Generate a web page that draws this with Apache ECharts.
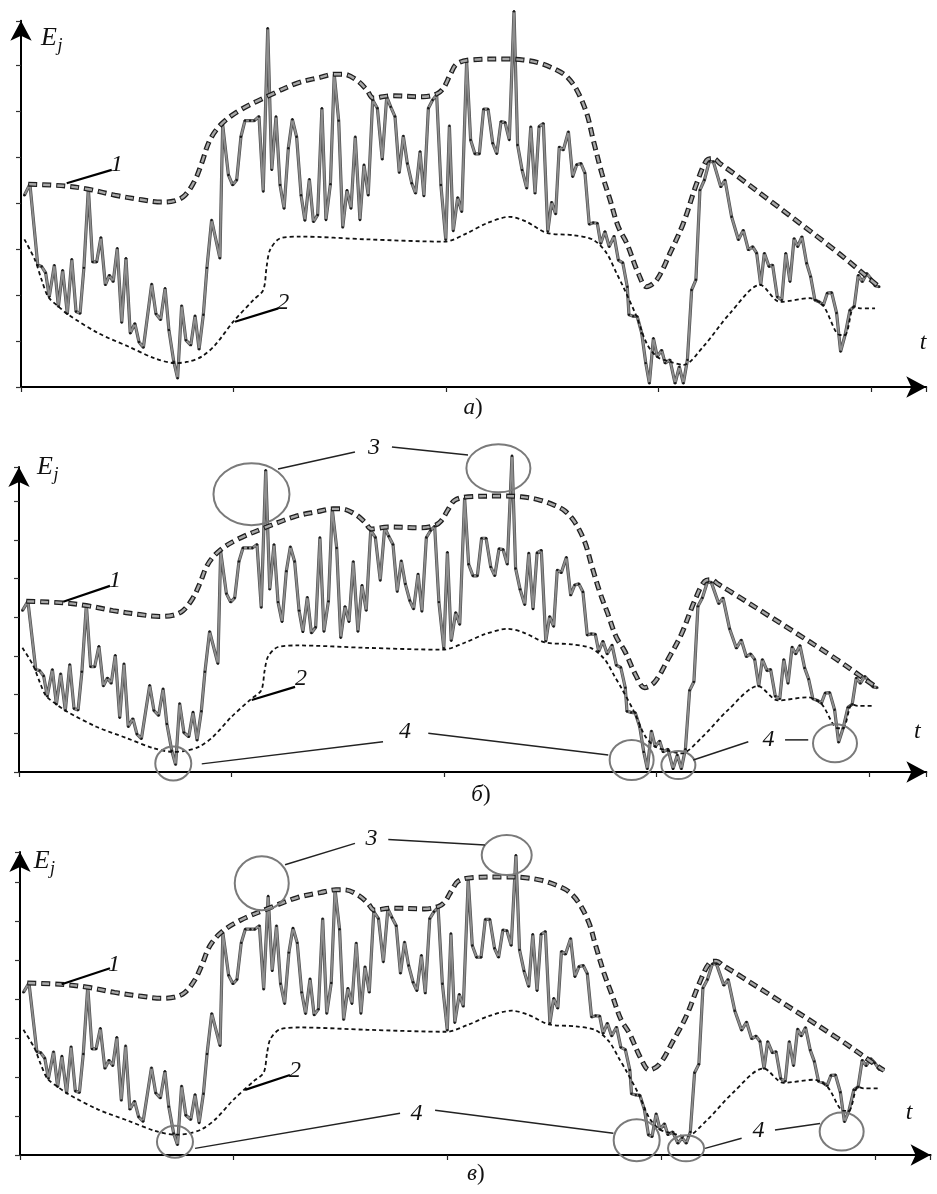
<!DOCTYPE html>
<html><head><meta charset="utf-8">
<script src="https://cdn.jsdelivr.net/npm/echarts@6/dist/echarts.min.js"></script>
<style>html,body{margin:0;padding:0;background:#fff}#c{width:937px;height:1194px}</style>
</head><body><div id="c"></div>
<script>
// ---- signal E_j(t), read from panel a) (t: one unit per x tick, E: one unit per y tick)
const signal = [
[0.016,4.17],[0.042,4.41],[0.079,2.65],[0.097,2.62],[0.116,2.48],[0.133,1.96],[0.157,2.65],[0.176,1.75],[0.196,2.54],[0.218,1.59],
[0.239,2.78],[0.259,1.64],[0.278,1.60],[0.296,2.59],[0.317,4.32],[0.337,2.72],[0.356,2.72],[0.376,3.25],[0.397,2.22],[0.416,2.43],
[0.434,2.29],[0.453,3.02],[0.474,1.40],[0.494,2.80],[0.514,1.17],[0.536,1.38],[0.555,0.98],[0.576,0.86],[0.615,2.24],[0.635,1.59],
[0.657,1.46],[0.678,2.15],[0.696,1.24],[0.719,0.55],[0.737,0.19],[0.756,1.77],[0.776,1.02],[0.799,0.91],[0.819,1.55],[0.838,0.82],
[0.858,1.57],[0.875,2.59],[0.897,3.63],[0.936,2.80],[0.949,5.70],[0.976,4.61],[0.996,4.39],[1.015,4.50],[1.035,5.44],[1.054,5.79],
[1.078,5.79],[1.098,5.79],[1.120,5.88],[1.140,4.25],[1.161,7.80],[1.180,4.72],[1.200,5.88],[1.219,4.39],[1.238,3.88],[1.258,5.19],
[1.277,5.82],[1.297,5.44],[1.318,4.17],[1.336,3.62],[1.357,4.52],[1.376,3.59],[1.396,3.74],[1.416,6.06],[1.435,3.63],[1.456,4.41],
[1.474,6.80],[1.495,5.79],[1.514,3.47],[1.534,4.28],[1.553,3.88],[1.573,5.44],[1.595,3.63],[1.614,4.83],[1.634,4.17],[1.655,6.24],
[1.677,6.06],[1.700,4.95],[1.721,6.31],[1.740,6.09],[1.760,5.88],[1.780,4.66],[1.799,5.46],[1.818,4.86],[1.839,4.43],[1.857,4.21],
[1.878,5.12],[1.896,4.15],[1.917,6.06],[1.937,6.24],[1.956,6.35],[1.976,4.39],[1.999,3.20],[2.016,5.68],[2.034,3.39],[2.055,4.12],
[2.074,3.81],[2.097,7.07],[2.116,5.37],[2.136,5.07],[2.157,5.07],[2.177,6.04],[2.198,6.04],[2.220,5.30],[2.239,5.07],[2.259,5.77],
[2.278,5.75],[2.298,5.37],[2.320,8.17],[2.337,5.26],[2.358,4.72],[2.380,4.32],[2.399,5.66],[2.419,4.21],[2.438,5.66],[2.458,5.73],
[2.479,3.38],[2.497,4.02],[2.516,3.76],[2.533,5.22],[2.552,5.15],[2.576,5.55],[2.596,4.57],[2.615,4.83],[2.635,4.86],[2.654,4.65],
[2.674,3.54],[2.693,3.57],[2.712,3.56],[2.728,3.12],[2.748,3.38],[2.768,3.05],[2.791,3.28],[2.811,2.76],[2.832,2.70],[2.853,2.18],
[2.861,1.57],[2.881,1.54],[2.900,1.53],[2.921,1.17],[2.940,0.52],[2.957,0.08],[2.976,1.06],[2.994,0.66],[3.015,0.80],[3.031,0.52],
[3.054,0.59],[3.078,0.08],[3.098,0.44],[3.117,0.08],[3.136,0.59],[3.156,2.11],[3.176,2.33],[3.195,4.28],[3.216,4.50],[3.239,4.90],
[3.258,4.90],[3.293,4.35],[3.313,4.50],[3.344,3.70],[3.376,3.20],[3.399,3.41],[3.423,2.98],[3.443,3.05],[3.462,2.91],[3.481,2.22],
[3.498,2.91],[3.520,2.62],[3.537,2.65],[3.559,1.96],[3.580,1.89],[3.599,2.91],[3.619,2.29],[3.638,3.23],[3.655,3.05],[3.675,3.27],
[3.697,2.69],[3.716,2.40],[3.736,1.89],[3.757,1.85],[3.776,1.78],[3.794,2.04],[3.815,2.05],[3.838,1.61],[3.857,0.77],[3.878,1.13],
[3.901,1.67],[3.921,1.75],[3.940,2.43],[3.959,2.29],[3.980,2.47],[3.999,2.36],[4.019,2.20],[4.039,2.18]
];
// ---- values of the signal that are changed in panel в) (anomalies 3 and 4 corrected)
const correctedPoints = [[0.737,0.26],[1.161,6.64],[2.320,7.69],[2.957,0.47],[3.078,0.30],[3.117,0.30],[3.857,0.85]];
// ---- envelope 1 (upper) and envelope 2 (lower)
const upperEnvelope = [
[0.034,4.41],[0.207,4.37],[0.317,4.30],[0.442,4.17],[0.568,4.07],[0.662,4.02],[0.725,4.05],[0.772,4.17],[0.819,4.50],[0.850,4.86],
[0.889,5.37],[0.944,5.72],[1.031,6.02],[1.156,6.31],[1.297,6.60],[1.407,6.73],[1.478,6.80],[1.517,6.80],[1.580,6.67],[1.627,6.46],
[1.658,6.28],[1.736,6.33],[1.893,6.31],[1.956,6.37],[1.987,6.49],[2.019,6.78],[2.050,7.02],[2.113,7.11],[2.270,7.13],[2.364,7.11],
[2.442,7.04],[2.521,6.89],[2.568,6.75],[2.615,6.46],[2.662,5.95],[2.693,5.37],[2.733,4.65],[2.772,4.07],[2.811,3.48],[2.851,3.12],
[2.905,2.47],[2.944,2.18],[2.992,2.33],[3.054,2.91],[3.117,3.56],[3.180,4.43],[3.227,4.93],[3.258,4.97],[3.289,4.86],[3.352,4.65],
[3.823,3.00],[4.027,2.22],[4.042,2.17]
];
const lowerEnvelope = [
[0.016,3.21],[0.066,2.76],[0.097,2.33],[0.128,1.96],[0.176,1.75],[0.223,1.57],[0.364,1.17],[0.505,0.88],[0.631,0.62],[0.725,0.52],
[0.787,0.55],[0.850,0.66],[0.913,0.91],[0.999,1.42],[1.093,1.89],[1.140,2.11],[1.156,2.62],[1.172,2.98],[1.219,3.23],[1.313,3.27],
[1.627,3.21],[1.995,3.16],[2.097,3.34],[2.192,3.56],[2.301,3.70],[2.380,3.59],[2.474,3.35],[2.599,3.30],[2.693,3.20],[2.756,2.91],
[2.803,2.47],[2.834,2.18],[2.897,1.53],[2.944,0.95],[2.992,0.66],[3.054,0.55],[3.117,0.48],[3.211,0.88],[3.336,1.60],[3.478,2.22],
[3.572,1.85],[3.713,1.93],[3.776,1.76],[3.854,1.13],[3.878,1.13],[3.920,1.75],[3.948,1.71],[4.019,1.71]
];
// ---- annotations (data coordinates)
const panelCaptions = ['а', 'б', 'в'];
const captionAt = [[0,2.127,-0.46],[1,2.174,-0.60],[2,2.133,-0.49]];
const axisNameE = [[0,0.132,7.59],[1,0.122,7.88],[2,0.101,7.54]];
const numberLabels = [
[0,0.450,4.83,'1'],[0,1.234,1.83,'2'],[0,4.245,0.96,'t'],
[1,0.452,4.94,'1'],[1,1.327,2.40,'2'],[1,1.671,8.37,'3'],[1,1.816,1.04,'4'],[1,3.527,0.83,'4'],[1,4.228,1.03,'t'],
[2,0.440,4.87,'1'],[2,1.287,2.15,'2'],[2,1.644,8.10,'3'],[2,1.855,1.05,'4'],[2,3.455,0.62,'4'],[2,4.159,1.08,'t']
];
const curveLeaders = [
[0,0.215,4.43,0.427,4.72],[0,1.007,1.42,1.211,1.71],
[1,0.208,4.40,0.428,4.81],[1,1.095,1.86,1.299,2.20],
[2,0.195,4.38,0.421,4.79],[2,1.053,1.67,1.263,2.05]
];
const anomalyLeaders = [
[1,1.219,7.83,1.581,8.27],[1,1.755,8.40,2.113,8.19],[1,1.713,0.78,0.860,0.21],[1,1.926,1.00,2.773,0.44],[1,3.173,0.31,3.432,0.78],[1,3.605,0.83,3.714,0.83],
[2,1.240,7.44,1.567,7.99],[2,1.723,8.09,2.175,7.95],[2,1.778,1.07,0.819,0.17],[2,1.942,1.15,2.776,0.56],[2,3.205,0.17,3.376,0.43],[2,3.532,0.64,3.743,0.81]
];
const anomalyCircles = [ // panel, t, E of centre
[1,1.094,7.18],[1,2.256,7.85],[1,0.726,0.22],[1,2.883,0.31],[1,3.103,0.18],[1,3.840,0.74],
[2,1.131,6.97],[2,2.277,7.69],[2,0.725,0.34],[2,2.885,0.38],[2,3.116,0.17],[2,3.844,0.60]
];
const circleRadiiPx = [[38,31],[32,24],[18,17],[22,20],[17,14],[22,19],[27,27],[25,20],[18,16],[23,21],[18,13],[22,19]];

// ---- layout of the three panels (pixels)
const layout = [
  {left:21, axisY:387,  pxT:212.5,  pxE:46,   xMax:4.26, yMax:7.96},
  {left:19, axisY:772,  pxT:212.5,  pxE:38.7, xMax:4.27, yMax:7.88},
  {left:20, axisY:1155, pxT:213.75, pxE:39,   xMax:4.26, yMax:7.77}
];

const signalC = signal.map(([t,e]) => {
  const c = correctedPoints.find(p => Math.abs(p[0]-t) < 1e-6);
  return [t, c ? c[1] : e];
});
const signals = [signal, signal, signalC];

const chart = echarts.init(document.getElementById('c'), null, {renderer:'canvas'});
const SERIF = '"Liberation Serif","Times New Roman",serif';
const grids = [], xAxes = [], yAxes = [], series = [];
layout.forEach((L, i) => {
  const h = L.yMax * L.pxE;
  grids.push({left:L.left, top:L.axisY - h, width:L.xMax*L.pxT, height:h, containLabel:false});
  const axisLine = {show:true, onZero:false, lineStyle:{color:'#000', width:2}, symbol:['none','arrow'], symbolSize:[16,20]};
  xAxes.push({type:'value', gridIndex:i, min:0, max:L.xMax, interval:1, axisLine,
    axisTick:{show:true, length:5, lineStyle:{color:'#222', width:1.2}}, axisLabel:{show:false}, splitLine:{show:false}});
  yAxes.push({type:'value', gridIndex:i, min:0, max:L.yMax, interval:1, axisLine,
    axisTick:{show:true, length:5, lineStyle:{color:'#333', width:1.2}}, axisLabel:{show:false}, splitLine:{show:false}});
  const base = {type:'line', xAxisIndex:i, yAxisIndex:i, animation:false, silent:true, clip:false};
  series.push(Object.assign({}, base, {data:signals[i], showSymbol:false, z:2,
    lineStyle:{color:'#505050', width:3.2}}));
  series.push(Object.assign({}, base, {data:signals[i], z:3, symbol:'circle', symbolSize:2.4,
    itemStyle:{color:'#1a1a1a', borderWidth:0}, lineStyle:{color:'#8e8e8e', width:1.8}}));
  series.push(Object.assign({}, base, {data:upperEnvelope, showSymbol:false, smooth:0.35, z:4,
    lineStyle:{color:'#1e1e1e', width:5, type:[9,5], cap:'butt'}}));
  series.push(Object.assign({}, base, {data:upperEnvelope, showSymbol:false, smooth:0.35, z:5,
    lineStyle:{color:'#a8a8a8', width:2.4, type:[7,7], dashOffset:-1, cap:'butt'}}));
  series.push(Object.assign({}, base, {data:lowerEnvelope, showSymbol:false, smooth:0.3, z:4,
    lineStyle:{color:'#111', width:1.8, type:[4,3]}}));
});

chart.setOption({animation:false, backgroundColor:'#fff', grid:grids, xAxis:xAxes, yAxis:yAxes, series});

function P(p, t, e){ return chart.convertToPixel({gridIndex:p}, [t, e]); }
const g = [];
numberLabels.forEach(([p,t,e,txt]) => {
  const [x,y] = P(p,t,e);
  g.push({type:'text', x, y, silent:true, z:20, style:{text:txt, fill:'#111', font:'italic 24px '+SERIF,
    align:'center', verticalAlign:'middle', textAlign:'center', textVerticalAlign:'middle'}});
});
axisNameE.forEach(([p,t,e]) => {
  const [x,y] = P(p,t,e);
  g.push({type:'text', x, y, silent:true, z:20, style:{text:'E', fill:'#111', font:'italic 26px '+SERIF,
    align:'center', verticalAlign:'middle', textAlign:'center', textVerticalAlign:'middle'}});
  g.push({type:'text', x:x+11, y:y+8, silent:true, z:20, style:{text:'j', fill:'#111', font:'italic 18px '+SERIF,
    align:'center', verticalAlign:'middle', textAlign:'center', textVerticalAlign:'middle'}});
});
captionAt.forEach(([p,t,e], k) => {
  const [x,y] = P(p,t,e);
  g.push({type:'text', x, y, silent:true, z:20, style:{text:'{i|'+panelCaptions[k]+'}{n|)}', fill:'#111',
    align:'center', verticalAlign:'middle', textAlign:'center', textVerticalAlign:'middle',
    rich:{i:{fontStyle:'italic', fontSize:23, fontFamily:SERIF, fill:'#111'}, n:{fontSize:23, fontFamily:SERIF, fill:'#111'}}}});
});
curveLeaders.forEach(([p,t1,e1,t2,e2]) => {
  const a = P(p,t1,e1), b = P(p,t2,e2);
  g.push({type:'line', silent:true, z:19, shape:{x1:a[0],y1:a[1],x2:b[0],y2:b[1]}, style:{stroke:'#000', lineWidth:2.2}});
});
anomalyLeaders.forEach(([p,t1,e1,t2,e2]) => {
  const a = P(p,t1,e1), b = P(p,t2,e2);
  g.push({type:'line', silent:true, z:19, shape:{x1:a[0],y1:a[1],x2:b[0],y2:b[1]}, style:{stroke:'#222', lineWidth:1.5}});
});
anomalyCircles.forEach(([p,t,e], k) => {
  const c = P(p,t,e);
  g.push({type:'ellipse', silent:true, z:18, shape:{cx:c[0], cy:c[1], rx:circleRadiiPx[k][0], ry:circleRadiiPx[k][1]},
    style:{fill:'none', stroke:'#7a7a7a', lineWidth:2}});
});
chart.setOption({graphic:{elements:g}});
</script>
</body></html>
